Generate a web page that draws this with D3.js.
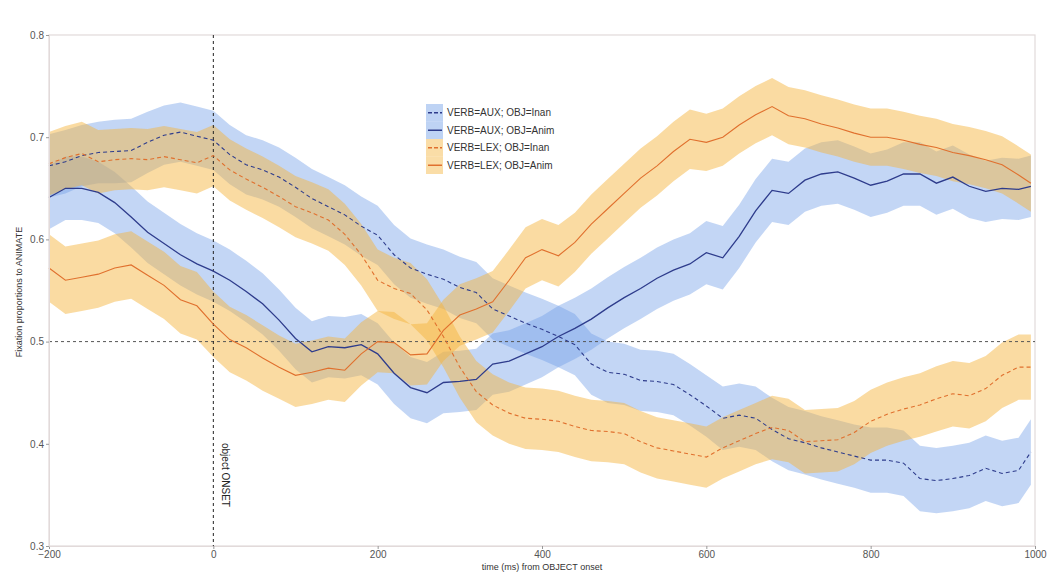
<!DOCTYPE html>
<html>
<head>
<meta charset="utf-8">
<script src="https://cdn.jsdelivr.net/npm/d3@7"></script>
<style>
  body { margin: 0; background: #fff; }
  text { font-family: "Liberation Sans", Arial, sans-serif; }
</style>
</head>
<body>
<svg></svg>
<script>
var width = 1047,
  height = 574;

var margin = { top: 35, right: 12, bottom: 28, left: 49 };

// time points (ms from object onset)
var times = [-200, -180, -160, -140, -120, -100, -80, -60, -40, -20,
  0, 20, 40, 60, 80, 100, 120, 140, 160, 180,
  200, 220, 240, 260, 280, 300, 320, 340, 360, 380,
  400, 420, 440, 460, 480, 500, 520, 540, 560, 580,
  600, 620, 640, 660, 680, 700, 720, 740, 760, 780,
  800, 820, 840, 860, 880, 900, 920, 940, 960, 980, 995];

// VERB=AUX; OBJ=Inan
var auxInan = [0.672, 0.676, 0.682, 0.685, 0.686, 0.687, 0.695, 0.702, 0.705, 0.701,
  0.697, 0.683, 0.673, 0.668, 0.661, 0.651, 0.640, 0.632, 0.624, 0.613,
  0.604, 0.585, 0.572, 0.566, 0.561, 0.553, 0.548, 0.532, 0.525, 0.518,
  0.512, 0.505, 0.497, 0.478, 0.470, 0.468, 0.462, 0.461, 0.458, 0.448,
  0.437, 0.425, 0.428, 0.425, 0.414, 0.405, 0.401, 0.396, 0.392, 0.388,
  0.384, 0.384, 0.381, 0.366, 0.364, 0.366, 0.369, 0.376, 0.371, 0.374, 0.392];
var auxInanSe = [0.031, 0.031, 0.030, 0.030, 0.031, 0.031, 0.030, 0.029, 0.029, 0.029,
  0.029, 0.029, 0.029, 0.029, 0.029, 0.029, 0.029, 0.029, 0.029, 0.029,
  0.029, 0.029, 0.029, 0.029, 0.029, 0.030, 0.030, 0.030, 0.030, 0.030,
  0.030, 0.030, 0.030, 0.030, 0.030, 0.030, 0.030, 0.030, 0.030, 0.030,
  0.030, 0.031, 0.031, 0.031, 0.031, 0.031, 0.031, 0.031, 0.031, 0.031,
  0.032, 0.032, 0.032, 0.032, 0.032, 0.032, 0.032, 0.032, 0.032, 0.032, 0.032];

// VERB=AUX; OBJ=Anim
var auxAnim = [0.641, 0.650, 0.650, 0.646, 0.636, 0.622, 0.607, 0.596, 0.585, 0.576,
  0.569, 0.560, 0.549, 0.537, 0.521, 0.503, 0.490, 0.495, 0.494, 0.497,
  0.488, 0.469, 0.455, 0.450, 0.460, 0.461, 0.463, 0.478, 0.481, 0.488,
  0.495, 0.505, 0.513, 0.522, 0.533, 0.543, 0.552, 0.562, 0.570, 0.576,
  0.587, 0.582, 0.603, 0.628, 0.648, 0.645, 0.658, 0.664, 0.666, 0.660,
  0.653, 0.657, 0.664, 0.664, 0.655, 0.661, 0.652, 0.647, 0.650, 0.649, 0.652];
var auxAnimSe = [0.031, 0.031, 0.031, 0.030, 0.030, 0.030, 0.030, 0.030, 0.030, 0.030,
  0.030, 0.030, 0.030, 0.030, 0.030, 0.030, 0.030, 0.030, 0.030, 0.030,
  0.030, 0.030, 0.030, 0.030, 0.030, 0.030, 0.030, 0.030, 0.030, 0.030,
  0.030, 0.030, 0.030, 0.030, 0.030, 0.030, 0.030, 0.030, 0.030, 0.030,
  0.031, 0.031, 0.031, 0.031, 0.031, 0.031, 0.031, 0.031, 0.031, 0.031,
  0.031, 0.031, 0.031, 0.031, 0.031, 0.031, 0.031, 0.030, 0.030, 0.030, 0.030];

// VERB=LEX; OBJ=Inan
var lexInan = [0.674, 0.680, 0.684, 0.676, 0.678, 0.679, 0.678, 0.681, 0.678, 0.675,
  0.682, 0.668, 0.659, 0.651, 0.642, 0.632, 0.626, 0.619, 0.605, 0.585,
  0.560, 0.552, 0.547, 0.531, 0.505, 0.475, 0.451, 0.438, 0.430, 0.425,
  0.424, 0.422, 0.417, 0.413, 0.412, 0.410, 0.402, 0.396, 0.393, 0.390,
  0.387, 0.396, 0.403, 0.410, 0.416, 0.413, 0.402, 0.403, 0.404, 0.411,
  0.422, 0.429, 0.434, 0.438, 0.444, 0.449, 0.447, 0.454, 0.467, 0.475, 0.475];
var lexInanSe = [0.031, 0.031, 0.031, 0.031, 0.030, 0.030, 0.030, 0.030, 0.030, 0.030,
  0.030, 0.030, 0.030, 0.030, 0.030, 0.030, 0.030, 0.030, 0.030, 0.030,
  0.030, 0.030, 0.030, 0.030, 0.030, 0.030, 0.030, 0.030, 0.030, 0.030,
  0.030, 0.030, 0.030, 0.030, 0.030, 0.030, 0.030, 0.030, 0.030, 0.030,
  0.030, 0.030, 0.030, 0.030, 0.031, 0.031, 0.031, 0.031, 0.031, 0.031,
  0.031, 0.031, 0.031, 0.031, 0.032, 0.032, 0.032, 0.032, 0.032, 0.032, 0.032];

// VERB=LEX; OBJ=Anim
var lexAnim = [0.572, 0.560, 0.563, 0.566, 0.572, 0.575, 0.565, 0.555, 0.541, 0.535,
  0.517, 0.502, 0.494, 0.484, 0.475, 0.467, 0.470, 0.474, 0.472, 0.488,
  0.500, 0.499, 0.487, 0.488, 0.511, 0.526, 0.532, 0.539, 0.560, 0.582,
  0.590, 0.584, 0.597, 0.615, 0.630, 0.645, 0.660, 0.672, 0.686, 0.698,
  0.695, 0.700, 0.712, 0.722, 0.730, 0.721, 0.718, 0.713, 0.709, 0.704,
  0.700, 0.700, 0.697, 0.693, 0.690, 0.685, 0.682, 0.678, 0.673, 0.663, 0.655];
var lexAnimSe = [0.033, 0.033, 0.033, 0.033, 0.033, 0.033, 0.033, 0.033, 0.033, 0.033,
  0.032, 0.032, 0.032, 0.032, 0.031, 0.031, 0.031, 0.031, 0.031, 0.031,
  0.030, 0.030, 0.030, 0.030, 0.030, 0.030, 0.030, 0.030, 0.030, 0.030,
  0.030, 0.030, 0.029, 0.029, 0.029, 0.029, 0.029, 0.029, 0.029, 0.029,
  0.028, 0.028, 0.028, 0.028, 0.028, 0.028, 0.028, 0.028, 0.028, 0.028,
  0.028, 0.028, 0.028, 0.028, 0.028, 0.028, 0.028, 0.028, 0.028, 0.028, 0.028];

var seriesNames = ["VERB=AUX; OBJ=Inan", "VERB=AUX; OBJ=Anim", "VERB=LEX; OBJ=Inan", "VERB=LEX; OBJ=Anim"];
var seriesValues = [auxInan, auxAnim, lexInan, lexAnim];
var seriesSe = [auxInanSe, auxAnimSe, lexInanSe, lexAnimSe];
var xTicks = [-200, 0, 200, 400, 600, 800, 1000];
var yTicks = [0.3, 0.4, 0.5, 0.6, 0.7, 0.8];

var bandColor = ["#6f9ee6", "#6f9ee6", "#f5b43c", "#f5b43c"];
var lineColor = ["#2e3c8c", "#2e3c8c", "#e0702e", "#e0702e"];
var dashed = [true, false, true, false];

var svg = d3.select("svg")
  .attr("width", width)
  .attr("height", height);

var x = d3.scaleLinear()
  .domain([-200, 1000])
  .range([margin.left, width - margin.right]);

var y = d3.scaleLinear()
  .domain([0.3, 0.8])
  .range([height - margin.bottom, margin.top]);

// plot frame
svg.append("rect")
  .attr("x", x(-200))
  .attr("y", y(0.8))
  .attr("width", x(1000) - x(-200))
  .attr("height", y(0.3) - y(0.8))
  .style("fill", "none")
  .style("stroke", "#e2dada")
  .style("stroke-width", 1.2);

// ribbons
var area = d3.area()
  .x((d) => x(d.t))
  .y0((d) => y(d.v - d.se))
  .y1((d) => y(d.v + d.se));

var line = d3.line()
  .x((d) => x(d.t))
  .y((d) => y(d.v));

var allSeries = seriesValues.map((vals, i) => {
  return times.map((t, j) => ({ t: t, v: vals[j], se: seriesSe[i][j] }));
});

svg.append("g")
  .selectAll("path")
  .data(allSeries)
  .enter().append("path")
  .attr("d", area)
  .style("fill", (d, i) => bandColor[i])
  .style("fill-opacity", (d, i) => i < 2 ? 0.42 : 0.48)
  .style("stroke", "none");

// reference lines
svg.append("line")
  .attr("x1", x(-200)).attr("x2", x(1000))
  .attr("y1", y(0.5)).attr("y2", y(0.5))
  .style("stroke", "#555")
  .style("stroke-width", 1)
  .style("stroke-dasharray", "3,3");

svg.append("line")
  .attr("x1", x(0)).attr("x2", x(0))
  .attr("y1", y(0.8)).attr("y2", y(0.3))
  .style("stroke", "#222")
  .style("stroke-width", 1)
  .style("stroke-dasharray", "3,3");

svg.append("text")
  .attr("transform", "translate(" + (x(0) + 9) + "," + 443 + ") rotate(90)")
  .style("font-size", "10px")
  .style("fill", "#222")
  .text("object ONSET");

// mean lines
svg.append("g")
  .selectAll("path")
  .data(allSeries)
  .enter().append("path")
  .attr("d", line)
  .style("fill", "none")
  .style("stroke", (d, i) => lineColor[i])
  .style("stroke-width", (d, i) => i == 1 ? 1.3 : 1.1)
  .style("stroke-dasharray", (d, i) => dashed[i] ? "4,3" : null);

// axes
var xAxis = svg.append("g")
  .attr("transform", "translate(0," + y(0.3) + ")")
  .call(d3.axisBottom(x).tickValues(xTicks).tickSize(3).tickPadding(2).tickFormat(d3.format("d")));

var yAxis = svg.append("g")
  .attr("transform", "translate(" + x(-200) + ",0)")
  .call(d3.axisLeft(y).tickValues(yTicks).tickSize(3).tickPadding(2).tickFormat(d3.format(".1f")));

[xAxis, yAxis].forEach((g) => {
  g.select(".domain").style("stroke", "#e2dada");
  g.selectAll(".tick line").style("stroke", "#999");
  g.selectAll(".tick text")
    .style("font-family", "'Liberation Sans', Arial, sans-serif")
    .style("font-size", "10px")
    .style("fill", "#555");
});

svg.append("text")
  .attr("x", (x(-200) + x(1000)) / 2)
  .attr("y", 570)
  .attr("text-anchor", "middle")
  .style("font-size", "9px")
  .style("fill", "#333")
  .text("time (ms) from OBJECT onset");

svg.append("text")
  .attr("transform", "translate(22," + 292 + ") rotate(-90)")
  .attr("text-anchor", "middle")
  .style("font-size", "9px")
  .style("fill", "#333")
  .text("Fixation proportions to ANIMATE");

// legend
var legend = svg.append("g")
  .attr("transform", "translate(426,104)");

var rowH = 17.5;
legend.selectAll("rect")
  .data(seriesNames)
  .enter().append("rect")
  .attr("x", 0)
  .attr("y", (d, i) => i * rowH)
  .attr("width", 17)
  .attr("height", rowH)
  .style("fill", (d, i) => bandColor[i])
  .style("fill-opacity", 0.45);

legend.selectAll("line")
  .data(seriesNames)
  .enter().append("line")
  .attr("x1", 2).attr("x2", 16)
  .attr("y1", (d, i) => i * rowH + rowH / 2)
  .attr("y2", (d, i) => i * rowH + rowH / 2)
  .style("stroke", (d, i) => lineColor[i])
  .style("stroke-width", 1.5)
  .style("stroke-dasharray", (d, i) => dashed[i] ? "4,2" : null);

legend.selectAll("text")
  .data(seriesNames)
  .enter().append("text")
  .attr("x", 21)
  .attr("y", (d, i) => i * rowH + rowH / 2 + 3.5)
  .style("font-size", "10px")
  .style("fill", "#333")
  .text((d) => d);
</script>
</body>
</html>
